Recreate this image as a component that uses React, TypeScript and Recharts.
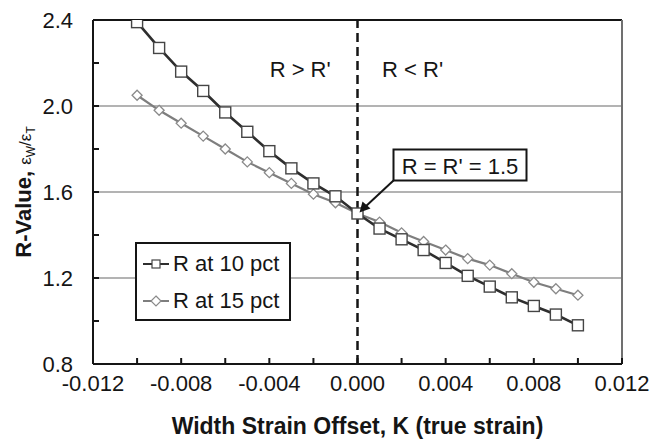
import React from "react";
import {
  LineChart,
  Line,
  XAxis,
  YAxis,
  CartesianGrid,
  ReferenceLine,
  ReferenceDot,
} from "recharts";

// width strain offset K (true strain)
const offsets = [
  -0.01, -0.009, -0.008, -0.007, -0.006, -0.005, -0.004, -0.003, -0.002, -0.001, 0,
  0.001, 0.002, 0.003, 0.004, 0.005, 0.006, 0.007, 0.008, 0.009, 0.01,
];
const rAt10 = [
  2.39, 2.27, 2.16, 2.07, 1.97, 1.88, 1.79, 1.71, 1.64, 1.58, 1.5,
  1.43, 1.38, 1.33, 1.27, 1.21, 1.16, 1.11, 1.07, 1.03, 0.98,
];
const rAt15 = [
  2.05, 1.98, 1.92, 1.86, 1.8, 1.74, 1.69, 1.64, 1.59, 1.55, 1.5,
  1.46, 1.41, 1.37, 1.33, 1.29, 1.26, 1.22, 1.18, 1.15, 1.12,
];
const xTicks = [-0.012, -0.01, -0.008, -0.006, -0.004, -0.002, 0, 0.002, 0.004, 0.006, 0.008, 0.01, 0.012];
const xLabels = [-0.012, -0.008, -0.004, 0, 0.004, 0.008, 0.012];
const yTicks = [0.8, 1.0, 1.2, 1.4, 1.6, 1.8, 2.0, 2.2, 2.4];
const yLabels = [0.8, 1.2, 1.6, 2.0, 2.4];
const gridValues = [1.2, 1.6, 2.0];

const data = offsets.map((k, i) => ({ k, r10: rAt10[i], r15: rAt15[i] }));

const FONT = '"Liberation Sans", Arial, sans-serif';
const ink = "#151515";
const sqLine = "#2e2e2e";
const sqMark = "#454545";
const diLine = "#7e7e7e";
const diMark = "#8a8a8a";

const near = (v: number, list: number[]) => list.some((t) => Math.abs(t - v) < 1e-9);

const YTick = (p: any) => {
  const { x, y, payload } = p;
  const ax = x + 20; // axis line position (tickMargin 20, tickSize 0)
  return (
    <g>
      <line x1={ax} x2={ax + 6} y1={y} y2={y} stroke={ink} strokeWidth={2} />
      {near(payload.value, yLabels) && (
        <text x={x} y={y + 8} textAnchor="end" fontFamily={FONT} fontSize={22} fill={ink}>
          {payload.value.toFixed(1)}
        </text>
      )}
    </g>
  );
};

const XTick = (p: any) => {
  const { x, y, payload } = p;
  const ay = y - 8; // axis line (tickMargin 8)
  return (
    <g>
      <line x1={x} x2={x} y1={ay} y2={ay - 6} stroke={ink} strokeWidth={2} />
      {near(payload.value, xLabels) && (
        <text x={x} y={y + 19} textAnchor="middle" fontFamily={FONT} fontSize={22} fill={ink}>
          {payload.value.toFixed(3)}
        </text>
      )}
    </g>
  );
};

const Square = (p: any) => {
  const { cx, cy, index } = p;
  if (cx == null || cy == null) return <g key={`s${index}`} />;
  return (
    <rect key={`s${index}`} x={cx - 5.5} y={cy - 5.5} width={11} height={11}
      fill="#fff" stroke={sqMark} strokeWidth={1.4} />
  );
};

const Diamond = (p: any) => {
  const { cx, cy, index } = p;
  if (cx == null || cy == null) return <g key={`d${index}`} />;
  return (
    <path key={`d${index}`} d={`M${cx},${cy - 5} L${cx + 5},${cy} L${cx},${cy + 5} L${cx - 5},${cy} Z`}
      fill="#fff" stroke={diMark} strokeWidth={1.3} />
  );
};

const LegendBox = () => (
  <div
    style={{
      position: "absolute",
      left: 135,
      top: 242,
      width: 156,
      height: 79,
      boxSizing: "border-box",
      border: `2px solid ${ink}`,
      background: "#fff",
      fontFamily: FONT,
      fontSize: 22,
      color: ink,
      paddingTop: 4,
    }}
  >
    {[
      { name: "R at 10 pct", line: sqLine, kind: "sq" },
      { name: "R at 15 pct", line: diLine, kind: "di" },
    ].map((e) => (
      <div key={e.name} style={{ display: "flex", alignItems: "center", height: 32, marginBottom: 5 }}>
        <svg width={30} height={20} style={{ marginLeft: 4, marginRight: 2 }}>
          <line x1={2} x2={28} y1={10} y2={10} stroke={e.line} strokeWidth={2} />
          {e.kind === "sq" ? (
            <rect x={11} y={6} width={8} height={8} fill="#fff" stroke={sqMark} strokeWidth={1.2} />
          ) : (
            <path d="M15,5 L20,10 L15,15 L10,10 Z" fill="#fff" stroke={diMark} strokeWidth={1.2} />
          )}
        </svg>
        <span style={{ lineHeight: "22px" }}>{e.name}</span>
      </div>
    ))}
  </div>
);

const textShape = (label: string) => (p: any) => (
  <text x={p.cx} y={p.cy + 8} textAnchor="middle" fontFamily={FONT} fontSize={22} fill={ink}>
    {label}
  </text>
);

const Callout = (p: any) => {
  const { cx, cy } = p;
  const bx = cx + 36;
  const by = cy - 64;
  return (
    <g>
      <line x1={bx} y1={by + 31} x2={cx + 7} y2={cy - 6} stroke={ink} strokeWidth={2} />
      <path d={`M${cx + 2},${cy - 1} L${cx + 5},${cy - 12} L${cx + 13},${cy - 5} Z`} fill={ink} />
      <rect x={bx} y={by} width={133} height={31} fill="#fff" stroke={ink} strokeWidth={2} />
      <text x={bx + 66.5} y={by + 24} textAnchor="middle" fontFamily={FONT} fontSize={22} fill={ink}>
        R = R' = 1.5
      </text>
    </g>
  );
};

const YLabel = (p: any) => {
  const vb = p.viewBox || { x: 0, y: 20, width: 93, height: 344 };
  const cy = vb.y + vb.height / 2;
  const x = 31;
  return (
    <text x={x} y={cy} transform={`rotate(-90 ${x} ${cy})`} textAnchor="middle"
      fontFamily={FONT} fill={ink}>
      <tspan fontSize={22} fontWeight="bold">R-Value, </tspan>
      <tspan fontSize={17}>ε</tspan>
      <tspan fontSize={12} dy={4}>W</tspan>
      <tspan fontSize={17} dy={-4}>/ε</tspan>
      <tspan fontSize={12} dy={4}>T</tspan>
    </text>
  );
};

const XLabel = (p: any) => {
  const vb = p.viewBox || { x: 93, y: 364, width: 529, height: 60 };
  return (
    <text x={vb.x + vb.width / 2} y={434} textAnchor="middle" fontFamily={FONT}
      fontSize={23} fontWeight="bold" fill={ink}>
      Width Strain Offset, K (true strain)
    </text>
  );
};

export default function App() {
  return (
    <div style={{ position: "absolute", left: 0, top: 0, width: 662, height: 447, background: "#fff" }}>
      <LineChart width={662} height={447} data={data}
        margin={{ top: 20, right: 40, left: 0, bottom: 23 }}>
        <CartesianGrid horizontal vertical={false} horizontalValues={gridValues}
          stroke="#9a9a9a" strokeWidth={1.5} />
        <XAxis
          type="number"
          dataKey="k"
          domain={[-0.012, 0.012]}
          ticks={xTicks}
          interval={0}
          allowDataOverflow
          height={60}
          tickSize={0}
          tickMargin={8}
          tickLine={false}
          tick={<XTick />}
          axisLine={{ stroke: ink, strokeWidth: 2 }}
          label={{ content: <XLabel /> }}
        />
        <YAxis
          type="number"
          domain={[0.8, 2.4]}
          ticks={yTicks}
          interval={0}
          allowDataOverflow
          width={93}
          tickSize={0}
          tickMargin={20}
          tickLine={false}
          tick={<YTick />}
          axisLine={{ stroke: ink, strokeWidth: 2 }}
          label={{ content: <YLabel /> }}
        />
        <ReferenceLine y={2.4} stroke={ink} strokeWidth={2} />
        <ReferenceLine x={0.012} stroke="#707070" strokeWidth={2} />
        <ReferenceLine x={0} stroke={ink} strokeWidth={2.5} strokeDasharray="9 5" />
        <Line type="linear" dataKey="r15" stroke={diLine} strokeWidth={2.2}
          dot={Diamond} activeDot={false} isAnimationActive={false} />
        <Line type="linear" dataKey="r10" stroke={sqLine} strokeWidth={2.6}
          dot={Square} activeDot={false} isAnimationActive={false} />
        <ReferenceDot x={-0.0026} y={2.17} r={0} shape={textShape("R > R'")} />
        <ReferenceDot x={0.0025} y={2.17} r={0} shape={textShape("R < R'")} />
        <ReferenceDot x={0} y={1.5} r={0} shape={Callout} />
      </LineChart>
      <LegendBox />
    </div>
  );
}
